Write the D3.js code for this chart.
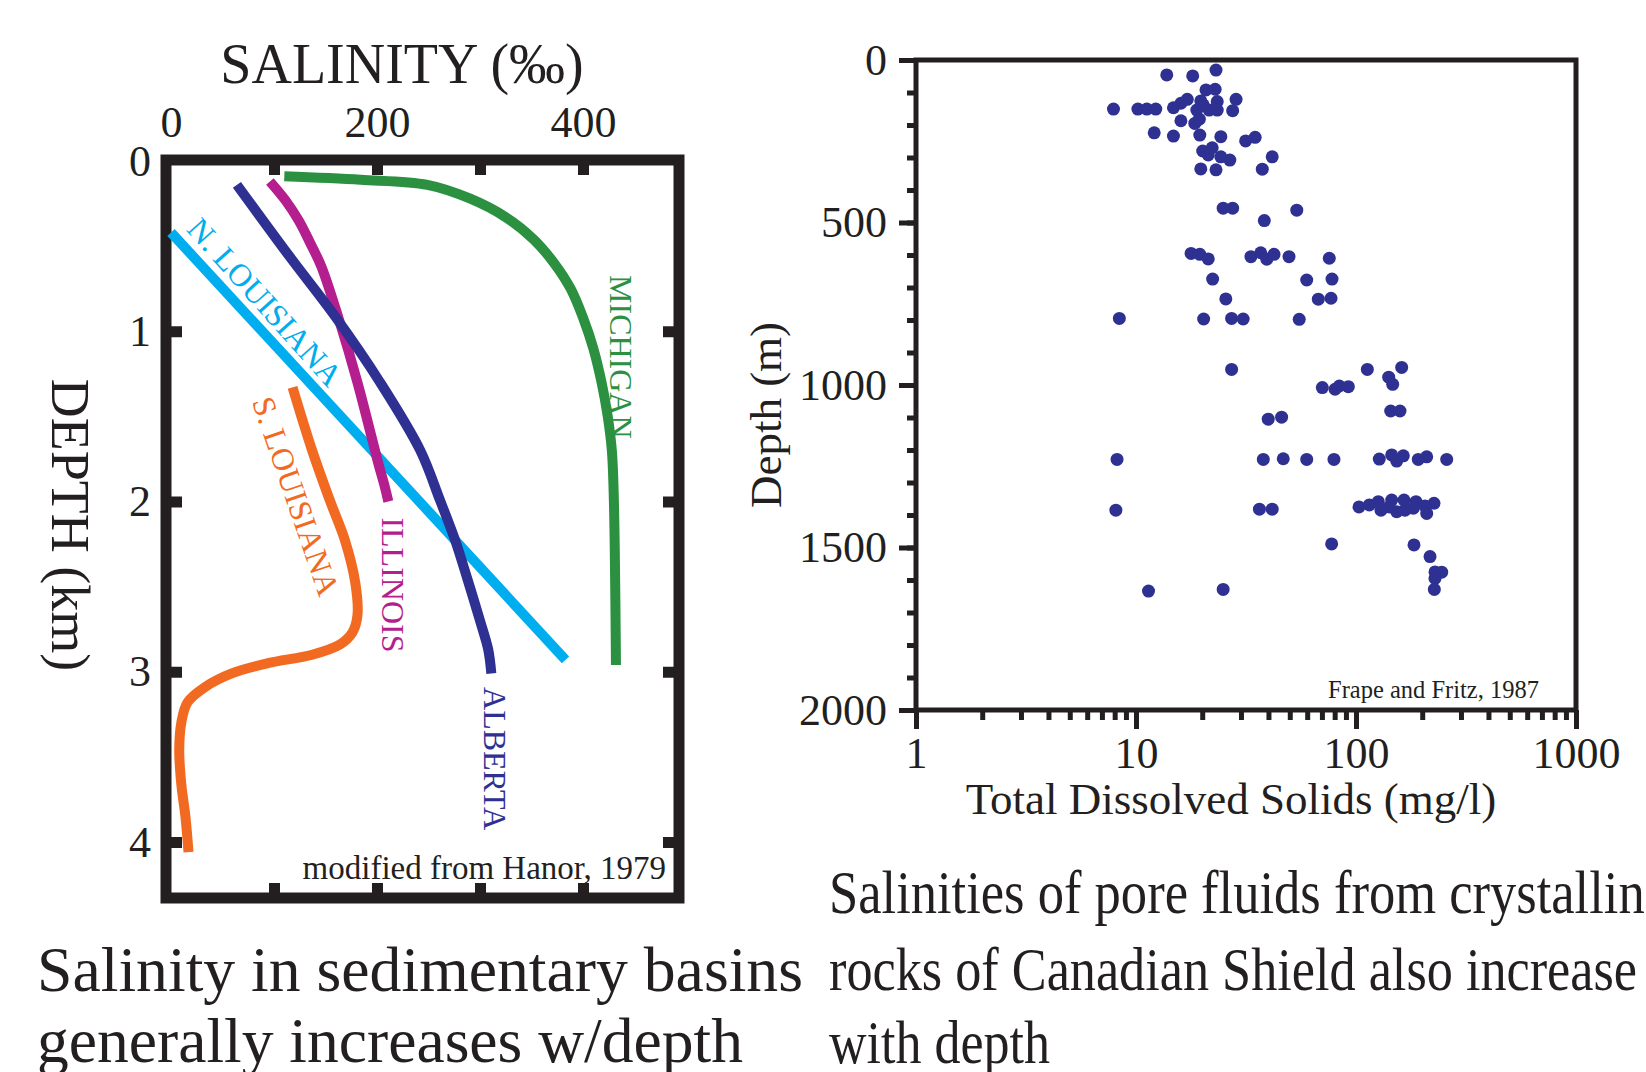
<!DOCTYPE html>
<html>
<head>
<meta charset="utf-8">
<script src="https://cdn.jsdelivr.net/npm/d3@7"></script>
<style>
  body { margin: 0; background: #fff; overflow: hidden; }
  svg { display: block; }
</style>
</head>
<body>
<script>
'use strict';

// ---- left panel: salinity (per mil) vs depth (km) ----
const salinityLabels = [0, 200, 400];
const salinityTicks = [100, 200, 300, 400];
const depthKmLabels = [0, 1, 2, 3, 4];
const depthKmTicks = [1, 2, 3, 4];

// [salinity, depth km]
const michigan = [[110, 0.09], [184, 0.11], [249, 0.14], [290, 0.22], [325, 0.33], [352, 0.46],
  [372, 0.6], [388, 0.75], [400, 0.92], [410, 1.1], [418, 1.3], [424, 1.5], [428, 1.7],
  [430, 2.0], [432, 2.96]];
const alberta = [[64, 0.14], [115, 0.56], [159, 0.91], [203, 1.3], [242, 1.7], [261, 1.99],
  [276, 2.23], [288, 2.46], [300, 2.7], [308, 2.87], [311, 3.01]];
const illinois = [[96, 0.12], [111, 0.23], [124, 0.35], [135, 0.48], [146, 0.62], [163, 0.93],
  [181, 1.3], [193, 1.58], [201, 1.77], [207, 1.9], [211, 2.0]];
const nLouisiana = [[0, 0.42], [383, 2.93]];
const sLouisiana = [[118, 1.33], [137, 1.7], [154, 1.99], [169, 2.23], [179, 2.48], [181, 2.67],
  [176, 2.77], [164, 2.84], [137, 2.9], [94, 2.95], [59, 3.01], [33, 3.09], [16, 3.18],
  [10, 3.3], [8, 3.46], [10, 3.66], [14, 3.85], [17, 4.06]];

const basinNames = ['N. LOUISIANA', 'S. LOUISIANA', 'MICHIGAN', 'ILLINOIS', 'ALBERTA'];
const basinCurves = [nLouisiana, sLouisiana, michigan, illinois, alberta];

// ---- right panel: TDS (mg/l) vs depth (m), Canadian Shield ----
const tdsLabels = [1, 10, 100, 1000];
const depthMLabels = [0, 500, 1000, 1500, 2000];

const tds = [13.8, 18.1, 23.1, 20.8, 22.9, 28.5, 7.9, 10.2, 11.2, 12.3, 14.8, 16.0, 17.1, 19.7,
  18.9, 21.5, 23.4, 23.4, 27.5, 16.0, 18.5, 19.4, 12.1, 14.8, 19.5, 24.3, 31.5, 34.8, 20.1,
  22.2, 21.3, 24.3, 26.7, 41.6, 19.7, 23.1, 37.5, 24.9, 27.5, 53.8, 38.3, 17.8, 19.5, 21.3,
  33.3, 36.9, 39.3, 42.4, 49.6, 75.6, 22.3, 59.7, 77.8, 25.6, 67.4, 77.0, 8.4, 20.3, 27.2,
  30.7, 55.2, 27.2, 112.6, 161.3, 140.8, 146.8, 70.3, 80.3, 84.0, 92.3, 143.8, 158.5, 39.9,
  45.9, 8.2, 37.9, 46.7, 59.7, 79.4, 127.6, 145.3, 153.1, 164.1, 191.9, 209.6, 258.4, 8.1,
  36.4, 41.6, 103.2, 115.0, 126.3, 129.9, 145.3, 153.1, 165.3, 167.0, 187.4, 182.2, 205.9,
  209.6, 226.2, 141.7, 77.5, 183.5, 217.0, 228.6, 245.2, 228.6, 227.0, 11.4, 24.9, 20.2];
const depthM = [46, 49, 31, 92, 90, 121, 151, 151, 151, 151, 147, 133, 121, 126,
  154, 154, 128, 154, 156, 187, 195, 182, 224, 234, 231, 236, 249, 238, 280,
  270, 292, 298, 308, 298, 335, 338, 336, 456, 456, 462, 494, 595, 598, 612,
  605, 593, 613, 598, 605, 610, 674, 677, 674, 735, 736, 733, 795, 797, 795,
  797, 798, 952, 952, 946, 976, 998, 1008, 1013, 1003, 1005, 1080, 1080, 1105,
  1099, 1229, 1229, 1227, 1229, 1229, 1228, 1215, 1234, 1218, 1229, 1221, 1229, 1385,
  1382, 1382, 1375, 1369, 1359, 1385, 1354, 1390, 1354, 1385, 1359, 1379, 1372,
  1395, 1364, 1375, 1489, 1492, 1528, 1575, 1576, 1595, 1629, 1634, 1629, 138];

// ---- styling / layout ----
const SERIF = "'Liberation Serif', 'Times New Roman', Times, serif";
const INK = '#231f20';
const basinColors = {
  'MICHIGAN': '#2b9140',
  'ALBERTA': '#2e3192',
  'ILLINOIS': '#b41e8e',
  'N. LOUISIANA': '#00adee',
  'S. LOUISIANA': '#f26a22'
};
// where each curve name sits (data units) and how it is turned
const labelSpots = {
  'MICHIGAN': { s: 436, d: 1.15, rot: 90 },
  'ALBERTA': { s: 314, d: 3.51, rot: 90 },
  'ILLINOIS': { s: 215, d: 2.49, rot: 90 },
  'N. LOUISIANA': { s: 91, d: 0.83, rot: 48 },
  'S. LOUISIANA': { s: 121, d: 1.97, rot: 71 }
};

let svgContainer = '';

window.onload = function() {
  svgContainer = d3.select('body')
    .append('svg')
    .attr('width', 1646)
    .attr('height', 1072);

  drawSalinityPanel();
  drawShieldPanel();
  drawCaptions();
};

// style a freshly called axis group
function styleAxis(g, size, width) {
  g.select('.domain').remove();
  g.selectAll('line').attr('stroke', INK).attr('stroke-width', width);
  g.selectAll('text').attr('fill', INK);
  g.attr('font-family', SERIF).attr('font-size', size);
}

// tick marks only, no numbers
function ticksOnly(g, width) {
  styleAxis(g, 10, width);
  g.selectAll('text').remove();
}

function drawSalinityPanel() {
  const xSal = d3.scaleLinear().domain([0, 500]).range([171, 686]);
  const yKm = d3.scaleLinear().domain([0, 4]).range([161, 842]);

  const frame = { left: 166, right: 679, top: 160, bottom: 898 };

  // inward ticks on all four sides
  svgContainer.append('g').attr('transform', `translate(0, ${frame.top})`)
    .call(d3.axisTop(xSal).tickValues(salinityTicks).tickSize(-15))
    .call(g => ticksOnly(g, 11));
  svgContainer.append('g').attr('transform', `translate(0, ${frame.bottom})`)
    .call(d3.axisBottom(xSal).tickValues(salinityTicks).tickSize(-15))
    .call(g => ticksOnly(g, 11));
  svgContainer.append('g').attr('transform', `translate(${frame.left}, 0)`)
    .call(d3.axisLeft(yKm).tickValues(depthKmTicks).tickSize(-16))
    .call(g => ticksOnly(g, 11));
  svgContainer.append('g').attr('transform', `translate(${frame.right}, 0)`)
    .call(d3.axisRight(yKm).tickValues(depthKmTicks).tickSize(-16))
    .call(g => ticksOnly(g, 11));

  // tick numbers
  svgContainer.append('g').attr('transform', `translate(0, ${frame.top})`)
    .call(d3.axisTop(xSal).tickValues(salinityLabels).tickSize(0).tickPadding(23).tickFormat(d3.format('d')))
    .call(g => styleAxis(g, 44, 0));
  svgContainer.append('g').attr('transform', `translate(${frame.left}, 0)`)
    .call(d3.axisLeft(yKm).tickValues(depthKmLabels).tickSize(0).tickPadding(15).tickFormat(d3.format('d')))
    .call(g => styleAxis(g, 44, 0));

  // frame
  svgContainer.append('rect')
    .attr('x', frame.left)
    .attr('y', frame.top)
    .attr('width', frame.right - frame.left)
    .attr('height', frame.bottom - frame.top)
    .attr('fill', 'none')
    .attr('stroke', INK)
    .attr('stroke-width', 11);

  // curves
  const line = d3.line()
    .x(d => xSal(d[0]))
    .y(d => yKm(d[1]))
    .curve(d3.curveCatmullRom.alpha(0.5));

  svgContainer.append('g').selectAll('path')
    .data(basinNames)
    .enter()
    .append('path')
      .attr('d', (name, i) => line(basinCurves[i]))
      .attr('fill', 'none')
      .attr('stroke', name => basinColors[name])
      .attr('stroke-width', 10)
      .attr('stroke-linecap', 'butt')
      .attr('stroke-linejoin', 'round');

  // curve names
  svgContainer.append('g').selectAll('text')
    .data(basinNames)
    .enter()
    .append('text')
      .attr('transform', name => {
        const p = labelSpots[name];
        return `translate(${xSal(p.s)}, ${yKm(p.d)}) rotate(${p.rot})`;
      })
      .attr('text-anchor', 'middle')
      .attr('dy', '0.33em')
      .attr('font-family', SERIF)
      .attr('font-size', 32)
      .attr('fill', name => basinColors[name])
      .text(name => name);

  // titles
  svgContainer.append('text')
    .attr('x', 402)
    .attr('y', 83)
    .attr('text-anchor', 'middle')
    .attr('font-family', SERIF)
    .attr('font-size', 56)
    .attr('fill', INK)
    .text('SALINITY (\u2030)');

  svgContainer.append('text')
    .attr('transform', 'translate(70, 525) rotate(90)')
    .attr('text-anchor', 'middle')
    .attr('dy', '0.33em')
    .attr('font-family', SERIF)
    .attr('font-size', 54)
    .attr('fill', INK)
    .text('DEPTH (km)');

  svgContainer.append('text')
    .attr('x', 666)
    .attr('y', 879)
    .attr('text-anchor', 'end')
    .attr('font-family', SERIF)
    .attr('font-size', 33)
    .attr('fill', INK)
    .text('modified from Hanor, 1979');
}

function drawShieldPanel() {
  const xTds = d3.scaleLog().domain([1, 1000]).range([916, 1576]);
  const yM = d3.scaleLinear().domain([0, 2000]).range([60, 710]);

  // minor ticks: 2..9 in each decade, every 100 m in depth
  const tdsMinor = [];
  [1, 10, 100].forEach(dec => { for (let k = 2; k <= 9; k++) tdsMinor.push(k * dec); });
  const depthMinor = d3.range(100, 2000, 100);

  svgContainer.append('g').attr('transform', 'translate(916, 0)')
    .call(d3.axisLeft(yM).tickValues(depthMinor).tickSize(9))
    .call(g => ticksOnly(g, 5));
  svgContainer.append('g').attr('transform', 'translate(916, 0)')
    .call(d3.axisLeft(yM).tickValues(depthMLabels).tickSize(17).tickPadding(12).tickFormat(d3.format('d')))
    .call(g => styleAxis(g, 44, 5));

  svgContainer.append('g').attr('transform', 'translate(0, 710)')
    .call(d3.axisBottom(xTds).tickValues(tdsMinor).tickSize(10))
    .call(g => ticksOnly(g, 5));
  svgContainer.append('g').attr('transform', 'translate(0, 710)')
    .call(d3.axisBottom(xTds).tickValues(tdsLabels).tickSize(19).tickPadding(8).tickFormat(d3.format('d')))
    .call(g => styleAxis(g, 44, 5));

  // frame
  svgContainer.append('rect')
    .attr('x', 916)
    .attr('y', 60)
    .attr('width', 660)
    .attr('height', 650)
    .attr('fill', 'none')
    .attr('stroke', INK)
    .attr('stroke-width', 5);

  // data points
  svgContainer.append('g').selectAll('circle')
    .data(tds)
    .enter()
    .append('circle')
      .attr('cx', d => xTds(d))
      .attr('cy', (d, i) => yM(depthM[i]))
      .attr('r', 6.5)
      .attr('fill', '#2e3192');

  // titles
  svgContainer.append('text')
    .attr('x', 1231)
    .attr('y', 814)
    .attr('text-anchor', 'middle')
    .attr('font-family', SERIF)
    .attr('font-size', 45)
    .attr('fill', INK)
    .text('Total Dissolved Solids (mg/l)');

  svgContainer.append('text')
    .attr('transform', 'translate(766, 415) rotate(-90)')
    .attr('text-anchor', 'middle')
    .attr('dy', '0.33em')
    .attr('font-family', SERIF)
    .attr('font-size', 45)
    .attr('fill', INK)
    .text('Depth (m)');

  svgContainer.append('text')
    .attr('x', 1539)
    .attr('y', 698)
    .attr('text-anchor', 'end')
    .attr('font-family', SERIF)
    .attr('font-size', 24.5)
    .attr('fill', INK)
    .text('Frape and Fritz, 1987');
}

// slide text under the two panels
function drawCaptions() {
  const lines = [
    { t: 'Salinity in sedimentary basins', x: 37, y: 991, w: 766, s: 64 },
    { t: 'generally increases w/depth', x: 37, y: 1062, w: 706, s: 64 },
    { t: 'Salinities of pore fluids from crystalline', x: 829, y: 913, w: 839, s: 62 },
    { t: 'rocks of Canadian Shield also increase', x: 829, y: 990, w: 808, s: 62 },
    { t: 'with depth', x: 829, y: 1063, w: 221, s: 62 }
  ];

  svgContainer.append('g').selectAll('text')
    .data(lines)
    .enter()
    .append('text')
      .attr('x', d => d.x)
      .attr('y', d => d.y)
      .attr('textLength', d => d.w)
      .attr('lengthAdjust', 'spacingAndGlyphs')
      .attr('font-family', SERIF)
      .attr('font-size', d => d.s)
      .attr('fill', INK)
      .text(d => d.t);
}
</script>
</body>
</html>
